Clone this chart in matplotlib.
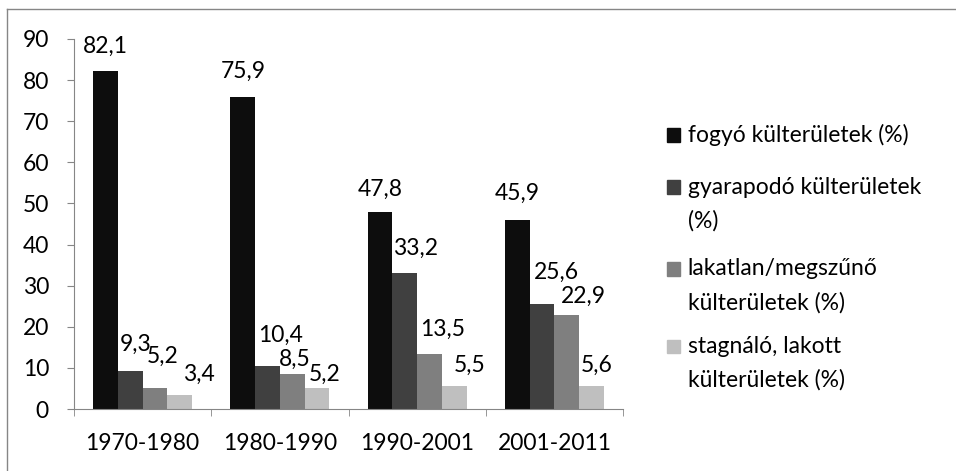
import matplotlib
matplotlib.use("Agg")
import matplotlib.pyplot as plt
import numpy as np
from matplotlib.patches import Rectangle
from matplotlib.lines import Line2D

periods = ["1970-1980", "1980-1990", "1990-2001", "2001-2011"]
series_names = [
    "fogyó külterületek (%)",
    "gyarapodó külterületek\n(%)",
    "lakatlan/megszűnő\nkülterületek (%)",
    "stagnáló, lakott\nkülterületek (%)",
]
fogyo = [82.1, 75.9, 47.8, 45.9]
gyarapodo = [9.3, 10.4, 33.2, 25.6]
lakatlan = [5.2, 8.5, 13.5, 22.9]
stagnalo = [3.4, 5.2, 5.5, 5.6]
values = [fogyo, gyarapodo, lakatlan, stagnalo]
colors = ["#0d0d0d", "#404040", "#7f7f7f", "#bfbfbf"]

# data label nudges (pixels): sideways shift and gap above the bar, as placed in the original
label_dx = [[0, 0, 0, 0], [5, 13, 11, 14], [8, 3, 13, 17], [19, 8, 15, 5]]
label_gap = [[19, 19, 17, 20], [20, 24, 18, 25], [25, 8, 18, 12], [14, 7, 15, 14]]

plt.rcParams['font.family'] = ['Lato', 'DejaVu Sans']
fs = 16.5
px = 0.72  # points per pixel at dpi 100

fig = plt.figure(figsize=(9.56, 4.71), dpi=100)
ax = fig.add_axes([0.0774, 0.1316, 0.6517 - 0.0774, 0.9172 - 0.1316])

x = np.arange(len(periods))
w = 0.18
for i, (vals, col) in enumerate(zip(values, colors)):
    pos = x + (i - 1.5) * w
    ax.bar(pos, vals, width=w, color=col, edgecolor='none')
    for j, (p, v) in enumerate(zip(pos, vals)):
        ax.annotate(f"{v:.1f}".replace(".", ","), (p, v),
                    xytext=(label_dx[i][j] * px, label_gap[i][j] * px),
                    textcoords="offset points", ha='center', va='baseline',
                    fontsize=fs, color='black')

ax.set_xlim(-0.5, len(periods) - 0.5)
ax.set_ylim(0, 90)
ax.set_yticks(range(0, 91, 10))
ax.set_xticks(x)
ax.set_xticklabels(periods)
ax.set_xticks(np.arange(-0.5, len(periods), 1), minor=True)
ax.tick_params(axis='x', which='major', length=0, pad=17.5, labelsize=fs)
ax.tick_params(axis='x', which='minor', length=5, color='#868686', direction='out')
ax.tick_params(axis='y', length=5, color='#868686', pad=13, labelsize=fs)
for s in ['top', 'right']:
    ax.spines[s].set_visible(False)
for s in ['left', 'bottom']:
    ax.spines[s].set_color('#868686')

# legend drawn by hand so the square sits on the first text line
leg_y = [0.712, 0.601, 0.428, 0.263]
for name, col, yy in zip(series_names, colors, leg_y):
    fig.patches.append(Rectangle((0.6977, yy - 0.013), 0.0136, 0.029,
                                 transform=fig.transFigure, color=col))
    fig.text(0.7195, yy + 0.024, name, fontsize=fs, va='top', ha='left',
             linespacing=1.72)

# outer chart border (left and top edges visible)
fig.lines.append(Line2D([0.0078, 0.0078], [0.0, 0.981], transform=fig.transFigure,
                        color='#868686', lw=1))
fig.lines.append(Line2D([0.0078, 1.0], [0.981, 0.981], transform=fig.transFigure,
                        color='#868686', lw=1))

fig.savefig("out.png", dpi=100)
